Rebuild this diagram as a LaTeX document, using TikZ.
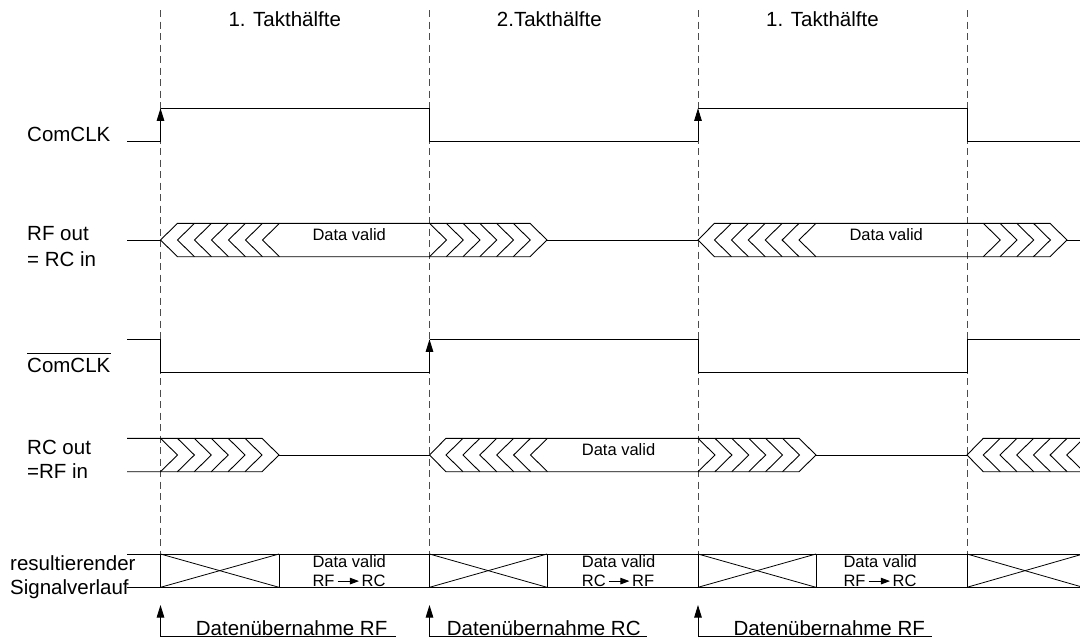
\documentclass[tikz,border=0pt]{standalone}
\usepackage{fontspec}
\setmainfont{Liberation Sans}
\usetikzlibrary{arrows.meta}

\tikzset{
  wave/.style={line width=0.9pt, line join=miter},
  guide/.style={line width=0.8pt, black!70, dash pattern=on 7pt off 4.5pt},
  edgearrow/.style={wave, -{Triangle[length=12.5pt,width=7.5pt]}},
  dirarrow/.style={line width=0.9pt, -{Triangle[length=9pt,width=6.5pt]}},
  biglabel/.style={font=\fontsize{20.5}{24}\selectfont, inner sep=0pt, anchor=base west},
  bigright/.style={biglabel, anchor=base east},
  smalllabel/.style={font=\fontsize{16.5}{19}\selectfont, inner sep=0pt, anchor=base west},
  smallright/.style={smalllabel, anchor=base east},
}

% chevron opening to the right ("<"), given tip x, top y, bottom y
\newcommand\chevL[3]{\draw[wave] ({#1+17},#2) -- (#1,{(#2+#3)/2}) -- ({#1+17},#3);}
% chevron pointing to the right (">"), given base x, top y, bottom y
\newcommand\chevR[3]{\draw[wave] (#1,#2) -- ({#1+17},{(#2+#3)/2}) -- (#1,#3);}

\begin{document}
\begin{tikzpicture}[x=1pt,y=-1pt]
\useasboundingbox (0,0) rectangle (1080,640);
\clip (0,0) rectangle (1080,640);

% clock half boundaries
\foreach \gx in {160.5,429.5,698,967}
  \draw[guide] (\gx,10) -- (\gx,554);

% half-period captions
\node[biglabel] (hA) at (228.3,26.3) {1. Takthälfte};
\node[biglabel] (hB) at (496.7,26.3) {2.Takthälfte};
\node[biglabel] (hC) at (766,26.3) {1. Takthälfte};

% signal names
\node[biglabel] (lClk)  at (27,141.7) {ComCLK};
\node[biglabel] (lRFa)  at (27,240)   {RF out};
\node[biglabel] (lRFb)  at (27,266.7) {= RC in};
\node[biglabel] (lCbar) at (27,372.7) {ComCLK};
\draw[line width=0.9pt] ([yshift=19.4pt]lCbar.base west) -- ([yshift=19.4pt]lCbar.base east);
\node[biglabel] (lRCa)  at (27,454.3) {RC out};
\node[biglabel] (lRCb)  at (27,478.3) {=RF in};
\node[biglabel] (lResA) at (10,570.7) {resultierender};
\node[biglabel] (lResB) at (10,594)   {Signalverlauf};

% ---------------- ComCLK ----------------
\draw[wave] (127,141.3) -- (160.5,141.3);
\draw[edgearrow] (160.5,141.3) -- (160.5,108.3);
\draw[wave] (160.5,108.3) -- (429.5,108.3) -- (429.5,141.3) -- (698,141.3);
\draw[edgearrow] (698,141.3) -- (698,108.3);
\draw[wave] (698,108.3) -- (967,108.3) -- (967,141.3) -- (1080,141.3);

% ---------------- RF out = RC in ----------------
\draw[wave] (127,240) -- (160.5,240);
\draw[wave] (160.5,240) -- (177.5,223.3) -- (530,223.3) -- (547,240) -- (530,256.7) -- (177.5,256.7) -- cycle;
\foreach \k in {0,...,5} {\chevL{177.5+17*\k}{223.3}{256.7}}
\foreach \k in {0,...,5} {\chevR{429.5+16.75*\k}{223.3}{256.7}}
\draw[wave] (547,240) -- (698,240);
\draw[wave] (698,240) -- (714.5,223.3) -- (1050,223.3) -- (1067,240) -- (1050,256.7) -- (714.5,256.7) -- cycle;
\foreach \k in {0,...,5} {\chevL{714.5+16.9*\k}{223.3}{256.7}}
\foreach \k in {0,...,3} {\chevR{983.3+16.7*\k}{223.3}{256.7}}
\draw[wave] (1067,240) -- (1080,240);
\node[smalllabel] (dvRF1) at (312.3,240.7) {Data valid};
\node[smalllabel] (dvRF2) at (849.3,240.7) {Data valid};

% ---------------- ComCLK inverted ----------------
\draw[wave] (127,339.3) -- (160.5,339.3) -- (160.5,372.3) -- (429.5,372.3);
\draw[edgearrow] (429.5,372.3) -- (429.5,339.3);
\draw[wave] (429.5,339.3) -- (698,339.3) -- (698,372.3) -- (967,372.3) -- (967,339.3) -- (1080,339.3);

% ---------------- RC out = RF in ----------------
\draw[wave] (127,438.3) -- (262,438.3) -- (279,455) -- (262,471.7) -- (127,471.7);
\foreach \k in {0,...,5} {\chevR{160.5+16.9*\k}{438.3}{471.7}}
\draw[wave] (279,455) -- (429.5,455);
\draw[wave] (429.5,455) -- (446,438.3) -- (799,438.3) -- (816,455) -- (799,471.7) -- (446,471.7) -- cycle;
\foreach \k in {0,...,5} {\chevL{446+16.9*\k}{438.3}{471.7}}
\foreach \k in {0,...,5} {\chevR{698+16.9*\k}{438.3}{471.7}}
\draw[wave] (816,455) -- (967,455);
\draw[wave] (1090,438.3) -- (983.3,438.3) -- (967,455) -- (983.3,471.7) -- (1090,471.7);
\foreach \k in {0,...,5} {\chevL{983.3+16.7*\k}{438.3}{471.7}}
\node[smalllabel] (dvRC1) at (581.7,455.7) {Data valid};

% ---------------- resulting signal ----------------
\draw[wave] (127,554) -- (1080,554);
\draw[wave] (127,587.3) -- (1080,587.3);
\foreach \xa/\xb in {160.5/279, 429.5/547, 698/816, 967/1083} {
  \draw[wave] (\xa,554) -- (\xa,587.3);
  \draw[wave] (\xb,554) -- (\xb,587.3);
  \draw[line width=0.8pt] (\xa,554) -- (\xb,587.3);
  \draw[line width=0.8pt] (\xa,587.3) -- (\xb,554);
}
\node[smalllabel] (rsA1) at (312.3,567.3) {Data valid};
\node[smalllabel] (rsA2) at (312.3,586.7) {RF};
\node[smallright] (rsA3) at (385.7,586.7) {RC};
\draw[dirarrow] ([xshift=3pt,yshift=5.6pt]rsA2.base east) -- ([xshift=-2.5pt,yshift=5.6pt]rsA3.base west);
\node[smalllabel] (rsB1) at (581.7,567.3) {Data valid};
\node[smalllabel] (rsB2) at (581.7,586.7) {RC};
\node[smallright] (rsB3) at (654.3,586.7) {RF};
\draw[dirarrow] ([xshift=3pt,yshift=5.6pt]rsB2.base east) -- ([xshift=-2.5pt,yshift=5.6pt]rsB3.base west);
\node[smalllabel] (rsC1) at (843.3,567.3) {Data valid};
\node[smalllabel] (rsC2) at (843.3,586.7) {RF};
\node[smallright] (rsC3) at (916.7,586.7) {RC};
\draw[dirarrow] ([xshift=3pt,yshift=5.6pt]rsC2.base east) -- ([xshift=-2.5pt,yshift=5.6pt]rsC3.base west);

% ---------------- data takeover markers ----------------
\coordinate (tkA) at (160.5,636.7);
\coordinate (tkB) at (429.5,636.7);
\coordinate (tkC) at (698,636.7);
\coordinate (tkAe) at (396,636.7);
\coordinate (tkBe) at (647,636.7);
\coordinate (tkCe) at (932,636.7);
\draw[edgearrow] (tkA) -- (160.5,605);
\draw[edgearrow] (tkB) -- (429.5,605);
\draw[edgearrow] (tkC) -- (698,605);
\draw[wave] (tkA) -- (tkAe);
\draw[wave] (tkB) -- (tkBe);
\draw[wave] (tkC) -- (tkCe);
\node[biglabel] (tkAl) at (195.7,635) {Datenübernahme RF};
\node[biglabel] (tkBl) at (446.7,635) {Datenübernahme RC};
\node[biglabel] (tkCl) at (733.3,635) {Datenübernahme RF};
\end{tikzpicture}
\end{document}
